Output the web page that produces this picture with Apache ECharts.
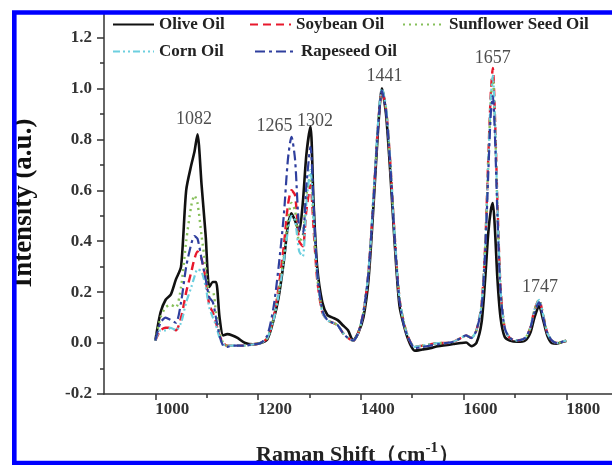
<!DOCTYPE html>
<html>
<head>
<meta charset="utf-8">
<script src="https://cdn.jsdelivr.net/npm/echarts@6/dist/echarts.min.js"></script>
<style>
  html, body { margin: 0; padding: 0; background: #fff; }
  #echart { width: 612px; height: 465px; }
</style>
</head>
<body>
<div id="echart"></div>
<script>
// Raman shift (cm-1) sample points, shared by all five spectra
const shift = [
  1000, 1010, 1020, 1030, 1040, 1050, 1060, 1070, 1076, 1082,
  1090, 1098, 1105, 1112, 1118, 1125, 1132, 1140, 1150, 1160,
  1175, 1190, 1205, 1218, 1230, 1240, 1250, 1258, 1265, 1272,
  1280, 1287, 1294, 1302, 1308, 1315, 1325, 1335, 1345, 1355,
  1365, 1375, 1385, 1395, 1405, 1415, 1425, 1433, 1441, 1449,
  1457, 1465, 1475, 1485, 1495, 1505, 1520, 1535, 1550, 1565,
  1580, 1595, 1605, 1615, 1625, 1635, 1642, 1648, 1653, 1657,
  1661, 1666, 1672, 1680, 1690, 1705, 1720, 1730, 1738, 1747,
  1755, 1763, 1772, 1782, 1792, 1800
];
const olive = [
  0.01, 0.12, 0.17, 0.19, 0.25, 0.30, 0.60, 0.70, 0.75, 0.82,
  0.62, 0.42, 0.22, 0.24, 0.24, 0.10, 0.03, 0.035, 0.03, 0.02,
  0.00, -0.005, 0.0, 0.015, 0.09, 0.18, 0.32, 0.46, 0.51, 0.48,
  0.44, 0.55, 0.74, 0.85, 0.55, 0.30, 0.16, 0.11, 0.10, 0.09,
  0.07, 0.05, 0.01, 0.04, 0.10, 0.25, 0.55, 0.82, 1.00, 0.90,
  0.68, 0.42, 0.15, 0.06, 0.0, -0.03, -0.025, -0.02, -0.012, -0.008,
  -0.004, 0.0, 0.002, -0.012, 0.0, 0.08, 0.25, 0.43, 0.52, 0.55,
  0.45, 0.25, 0.10, 0.025, 0.01, 0.005, 0.01, 0.04, 0.10, 0.146,
  0.09, 0.03, 0.0, -0.002, 0.004, 0.008
];
const soybean = [
  0.01, 0.05, 0.06, 0.06, 0.05, 0.10, 0.20, 0.28, 0.33, 0.36,
  0.33, 0.25, 0.15, 0.12, 0.08, 0.03, 0.0, -0.01, -0.01, -0.01,
  -0.01, -0.005, 0.0, 0.02, 0.10, 0.22, 0.38, 0.54, 0.60, 0.58,
  0.40, 0.38, 0.52, 0.62, 0.45, 0.25, 0.12, 0.09, 0.08, 0.07,
  0.04, 0.02, 0.01, 0.04, 0.12, 0.28, 0.58, 0.84, 0.99, 0.92,
  0.72, 0.45, 0.18, 0.07, 0.01, -0.015, -0.01, -0.005, 0.0, 0.0,
  0.005, 0.02, 0.03, 0.02, 0.05, 0.15, 0.38, 0.72, 0.98, 1.08,
  0.90, 0.55, 0.22, 0.06, 0.02, 0.01, 0.02, 0.06, 0.13, 0.17,
  0.11, 0.04, 0.01, 0.0, 0.005, 0.01
];
const sunflower = [
  0.01, 0.10, 0.14, 0.15, 0.14, 0.22, 0.40, 0.54, 0.58, 0.55,
  0.42, 0.30, 0.20, 0.20, 0.12, 0.04, 0.0, -0.01, -0.01, -0.01,
  -0.01, -0.005, 0.0, 0.02, 0.10, 0.20, 0.34, 0.48, 0.55, 0.52,
  0.40, 0.42, 0.58, 0.66, 0.48, 0.26, 0.13, 0.09, 0.08, 0.07,
  0.04, 0.02, 0.01, 0.04, 0.12, 0.28, 0.58, 0.84, 0.99, 0.92,
  0.72, 0.45, 0.18, 0.07, 0.01, -0.015, -0.01, -0.005, 0.0, 0.0,
  0.005, 0.02, 0.03, 0.02, 0.05, 0.15, 0.37, 0.70, 0.95, 1.04,
  0.87, 0.53, 0.21, 0.06, 0.02, 0.01, 0.02, 0.06, 0.13, 0.17,
  0.11, 0.04, 0.01, 0.0, 0.005, 0.01
];
const corn = [
  0.01, 0.05, 0.05, 0.06, 0.05, 0.08, 0.16, 0.22, 0.26, 0.29,
  0.28, 0.22, 0.14, 0.10, 0.07, 0.02, -0.005, -0.01, -0.01, -0.01,
  -0.01, -0.005, 0.0, 0.02, 0.09, 0.19, 0.32, 0.44, 0.50, 0.48,
  0.36, 0.34, 0.55, 0.68, 0.50, 0.27, 0.12, 0.09, 0.08, 0.07,
  0.04, 0.02, 0.01, 0.04, 0.12, 0.28, 0.59, 0.85, 1.00, 0.93,
  0.72, 0.45, 0.18, 0.07, 0.01, -0.015, -0.01, -0.005, 0.0, 0.0,
  0.005, 0.02, 0.03, 0.02, 0.05, 0.15, 0.37, 0.70, 0.96, 1.05,
  0.88, 0.54, 0.21, 0.06, 0.02, 0.01, 0.02, 0.06, 0.13, 0.17,
  0.11, 0.04, 0.01, 0.0, 0.005, 0.01
];
const rapeseed = [
  0.01, 0.08, 0.10, 0.09, 0.08, 0.16, 0.30, 0.39, 0.42, 0.41,
  0.33, 0.25, 0.18, 0.16, 0.10, 0.03, -0.01, -0.015, -0.01, -0.01,
  -0.01, -0.005, 0.0, 0.03, 0.14, 0.30, 0.50, 0.72, 0.81, 0.72,
  0.45, 0.43, 0.62, 0.77, 0.55, 0.28, 0.13, 0.09, 0.08, 0.07,
  0.04, 0.02, 0.01, 0.04, 0.12, 0.28, 0.57, 0.83, 0.99, 0.91,
  0.71, 0.44, 0.17, 0.06, 0.01, -0.02, -0.015, -0.01, -0.005, 0.0,
  0.005, 0.02, 0.03, 0.02, 0.05, 0.14, 0.35, 0.66, 0.90, 0.97,
  0.82, 0.50, 0.20, 0.06, 0.02, 0.01, 0.02, 0.06, 0.12, 0.16,
  0.10, 0.04, 0.01, 0.0, 0.005, 0.01
];

// peak annotations (text placed at wavenumber / intensity)
const peakText = ['1082', '1265', '1302', '1441', '1657', '1747'];
const peakX = [1075, 1232, 1311, 1446, 1657, 1749];
const peakY = [0.88, 0.85, 0.872, 1.047, 1.12, 0.218];

const xLabels = [1000, 1200, 1400, 1600, 1800];
const xMinor = [1100, 1300, 1500, 1700];

const serif = '"Liberation Serif", "Times New Roman", serif';
const axisColor = '#333';

const chart = echarts.init(document.getElementById('echart'));

const pair = arr => shift.map((x, i) => [x, arr[i]]);

function spectrum(name, arr, color, type, width) {
  return {
    name: name, type: 'line', data: pair(arr), xAxisIndex: 0,
    symbol: 'none', smooth: 0.25, animation: false,
    lineStyle: { color: color, type: type, width: width },
    itemStyle: { color: color }
  };
}

function legendAt(name, left, top) {
  return {
    data: [name], left: left, top: top, padding: 0,
    itemWidth: 41, itemHeight: 14, itemGap: 0,
    itemStyle: { opacity: 0 },
    textStyle: { fontFamily: serif, fontWeight: 'bold', fontSize: 17, color: '#222' }
  };
}

chart.setOption({
  animation: false,
  backgroundColor: '#fff',
  // axis cut at the right edge of the picture, roughly at 1889 cm-1
  grid: { left: 104, top: 12, right: 0, height: 382, outerBoundsMode: 'none' },
  legend: [
    legendAt('Olive Oil', 112, 16),
    legendAt('Soybean Oil', 249, 16),
    legendAt('Sunflower Seed Oil', 402, 16),
    legendAt('Corn Oil', 112, 43),
    legendAt('Rapeseed Oil', 254, 43)
  ],
  xAxis: [
    {
      type: 'value', min: 900, max: 1889, position: 'bottom',
      splitLine: { show: false },
      axisLine: { onZero: false, lineStyle: { color: axisColor, width: 1.5 } },
      axisTick: { customValues: xLabels, length: 6, lineStyle: { color: axisColor, width: 1.5 } },
      axisLabel: {
        customValues: xLabels, align: 'left', margin: 7,
        formatter: v => String(v),
        fontFamily: serif, fontWeight: 'bold', fontSize: 17, color: '#333'
      },
      name: '{a|Raman Shift（cm}{b|-1}{a|）}',
      nameLocation: 'middle', nameGap: 47,
      nameTextStyle: {
        rich: {
          a: { fontFamily: serif, fontWeight: 'bold', fontSize: 22, color: '#222' },
          b: { fontFamily: serif, fontWeight: 'bold', fontSize: 15, color: '#222', padding: [0, 0, 14, 0] }
        }
      }
    },
    {
      type: 'value', min: 900, max: 1889, position: 'bottom',
      splitLine: { show: false },
      axisLine: { show: false, onZero: false },
      axisTick: { customValues: xMinor, length: 4, lineStyle: { color: axisColor, width: 1.5 } },
      axisLabel: { show: false }
    }
  ],
  yAxis: {
    type: 'value', min: -0.2, max: 1.3, interval: 0.2,
    splitLine: { show: false },
    axisLine: { show: true, lineStyle: { color: axisColor, width: 1.5 } },
    axisTick: { show: true, length: 7, lineStyle: { color: axisColor, width: 1.5 } },
    minorTick: { show: true, splitNumber: 2, length: 4, lineStyle: { color: axisColor, width: 1.5 } },
    axisLabel: {
      showMaxLabel: false, margin: 12,
      formatter: v => v.toFixed(1),
      fontFamily: serif, fontWeight: 'bold', fontSize: 17, color: '#333'
    },
    name: 'Intensity (a.u.)',
    nameLocation: 'middle', nameGap: 66,
    nameTextStyle: { fontFamily: serif, fontWeight: 'bold', fontSize: 27, color: '#111' }
  },
  series: [
    spectrum('Olive Oil', olive, '#111111', 'solid', 2.6),
    spectrum('Soybean Oil', soybean, '#e8182c', [8, 5], 2.4),
    spectrum('Sunflower Seed Oil', sunflower, '#86bf5a', [2, 4], 2.4),
    spectrum('Corn Oil', corn, '#6ccfdf', [7, 3, 2, 3, 2, 3], 2.2),
    spectrum('Rapeseed Oil', rapeseed, '#2f3f9e', [10, 4, 3, 4], 2.2),
    {
      type: 'scatter', symbolSize: 0, silent: true, animation: false,
      data: peakX.map((x, i) => ({ value: [x, peakY[i]], name: peakText[i] })),
      label: {
        show: true, position: 'inside', formatter: p => p.name,
        fontFamily: serif, fontSize: 18, color: '#222'
      }
    }
  ],
  graphic: [{
    type: 'rect', z: 100, silent: true,
    shape: { x: 14.3, y: 12.5, width: 620, height: 450.5 },
    style: { fill: 'none', stroke: '#0000ff', lineWidth: 4.6 }
  }]
});
</script>
</body>
</html>
